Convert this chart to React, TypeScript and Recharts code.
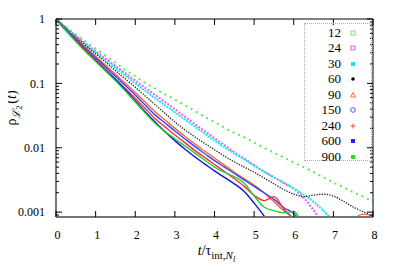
import { LineChart, Line, XAxis, YAxis, Legend } from 'recharts';

const times = [0, 0.25, 0.5, 0.75, 1, 1.25, 1.5, 1.75, 2, 2.25, 2.5, 2.75, 3, 3.25, 3.5, 3.75, 4, 4.25, 4.5, 4.75, 5, 5.25, 5.5, 5.75, 6, 6.25, 6.5, 6.75, 7, 7.25, 7.5, 7.75, 8];

// rho_L2(t) per lattice size
const rho12 = [1, 0.759, 0.575, 0.447, 0.347, 0.269, 0.209, 0.162, 0.129, 0.102, 0.0832, 0.0676, 0.0562, 0.0457, 0.0372, 0.0302, 0.0251, 0.0204, 0.017, 0.0145, 0.012, 0.01, 0.00832, 0.00708, 0.00589, 0.00501, 0.00417, 0.00347, 0.00288, 0.00245, 0.00204, 0.00174, 0.00145];
const rho24 = [1, 0.733, 0.55, 0.417, 0.316, 0.243, 0.186, 0.143, 0.11, 0.0851, 0.0661, 0.0513, 0.0398, 0.0305, 0.0234, 0.0182, 0.0141, 0.011, 0.00851, 0.00676, 0.00537, 0.00427, 0.00347, 0.00282, 0.00229, 0.00166, 0.00107, 0.00063];
const rho30 = [1, 0.724, 0.537, 0.398, 0.302, 0.229, 0.174, 0.132, 0.1, 0.0767, 0.0589, 0.0457, 0.0355, 0.0275, 0.0214, 0.0166, 0.0129, 0.0102, 0.00813, 0.00661, 0.00525, 0.00427, 0.00347, 0.00288, 0.00234, 0.00186, 0.00145, 0.00105, 0.00071];
const rho60 = [1, 0.716, 0.525, 0.389, 0.288, 0.214, 0.158, 0.117, 0.0871, 0.0638, 0.0468, 0.0343, 0.0251, 0.0191, 0.0148, 0.0117, 0.00933, 0.00741, 0.00603, 0.00501, 0.00417, 0.00339, 0.00275, 0.00224, 0.00191, 0.00174, 0.00184, 0.0019, 0.00178, 0.00148, 0.0012, 0.00102, 0.00087];
const rho90 = [1, 0.7, 0.501, 0.363, 0.263, 0.191, 0.138, 0.1, 0.0724, 0.0513, 0.0363, 0.0269, 0.02, 0.0151, 0.0115, 0.00891, 0.00692, 0.00537, 0.00417, 0.00331, 0.00263, 0.002, 0.00145, 0.00105, 0.00079, 0.0005, 0.0004, 0.0004, 0.0004, 0.0005, 0.00076, 0.00093, 0.00087];
const rho150 = [1, 0.692, 0.49, 0.347, 0.251, 0.18, 0.129, 0.0923, 0.0661, 0.0462, 0.0324, 0.0243, 0.0182, 0.0138, 0.0105, 0.00813, 0.00631, 0.00501, 0.00398, 0.00316, 0.00251, 0.002, 0.00158, 0.00117, 0.00095, 0.00056];
const rho240 = [1, 0.676, 0.468, 0.331, 0.234, 0.166, 0.117, 0.0832, 0.0589, 0.0407, 0.0282, 0.0211, 0.0158, 0.012, 0.00912, 0.00708, 0.0055, 0.00427, 0.00331, 0.00251, 0.00182, 0.00151, 0.00174, 0.00112, 0.00076, 0.00045];
const rho600 = [1, 0.661, 0.457, 0.316, 0.224, 0.158, 0.115, 0.0794, 0.0537, 0.0363, 0.0251, 0.0178, 0.0129, 0.00955, 0.00724, 0.00562, 0.00437, 0.00347, 0.00275, 0.00209, 0.00138, 0.00087, 0.0005];
const rho900 = [1, 0.661, 0.447, 0.309, 0.219, 0.155, 0.11, 0.0759, 0.0513, 0.0347, 0.024, 0.0178, 0.0138, 0.0107, 0.00832, 0.00646, 0.00501, 0.00417, 0.00355, 0.00282, 0.00178, 0.0012, 0.00105, 0.00098, 0.00102, 0.0005];

const xTicks = [0, 1, 2, 3, 4, 5, 6, 7, 8];
const yMajor = [0.001, 0.01, 0.1, 1];
const yTicks = [
  0.0009, 0.001, 0.002, 0.003, 0.004, 0.005, 0.006, 0.007, 0.008, 0.009,
  0.01, 0.02, 0.03, 0.04, 0.05, 0.06, 0.07, 0.08, 0.09,
  0.1, 0.2, 0.3, 0.4, 0.5, 0.6, 0.7, 0.8, 0.9, 1,
];

const FONT = '"Liberation Serif", "DejaVu Serif", serif';

type Marker = 'box' | 'square' | 'dot' | 'tri' | 'circle' | 'plus';

const series: { key: string; label: string; values: number[]; color: string; width: number; dash?: string; marker: Marker; mcolor: string }[] = [
  { key: 's12', label: '12', values: rho12, color: '#55ee55', width: 2, dash: '2 4', marker: 'box', mcolor: '#77e877' },
  { key: 's24', label: '24', values: rho24, color: '#ff55ff', width: 2, dash: '2 1.5', marker: 'box', mcolor: '#ee55ee' },
  { key: 's30', label: '30', values: rho30, color: '#11eeee', width: 2, dash: '2 1', marker: 'square', mcolor: '#11e6e6' },
  { key: 's60', label: '60', values: rho60, color: '#222222', width: 1.3, dash: '1.3 1.3', marker: 'dot', mcolor: '#000' },
  { key: 's90', label: '90', values: rho90, color: '#ff6633', width: 1.4, marker: 'tri', mcolor: '#ff6633' },
  { key: 's150', label: '150', values: rho150, color: '#3344ff', width: 1.4, marker: 'circle', mcolor: '#5555ff' },
  { key: 's240', label: '240', values: rho240, color: '#ff3030', width: 1.4, marker: 'plus', mcolor: '#ff4444' },
  { key: 's600', label: '600', values: rho600, color: '#1010e0', width: 1.4, marker: 'square', mcolor: '#2222ee' },
  { key: 's900', label: '900', values: rho900, color: '#22d033', width: 1.4, marker: 'square', mcolor: '#22dd22' },
];

const data = times.map((t, i) => {
  const row: Record<string, number | null> = { t };
  series.forEach((s) => {
    row[s.key] = i < s.values.length ? s.values[i] : null;
  });
  return row;
});

const isMajor = (v: number) => yMajor.some((m) => Math.abs(m - v) < 1e-9);

function LeftTick({ x, y, payload }: any) {
  const major = isMajor(payload.value);
  return (
    <g>
      <line x1={x} x2={x + (major ? 6 : 3)} y1={y} y2={y} stroke="#000" strokeWidth={1} />
      {major && (
        <text x={x - 11} y={y} dy="0.35em" textAnchor="end" fontFamily={FONT} fontSize={12} fill="#000">
          {String(payload.value)}
        </text>
      )}
    </g>
  );
}

function RightTick({ x, y, payload }: any) {
  const major = isMajor(payload.value);
  return <line x1={x} x2={x - (major ? 6 : 3)} y1={y} y2={y} stroke="#000" strokeWidth={1} />;
}

function BottomTick({ x, y, payload }: any) {
  return (
    <g>
      <line x1={x} x2={x} y1={y} y2={y - 6} stroke="#000" strokeWidth={1} />
      <text x={x + 1.5} y={y + 22} textAnchor="middle" fontFamily={FONT} fontSize={12} fill="#000">
        {payload.value}
      </text>
    </g>
  );
}

function TopTick({ x, y }: any) {
  return <line x1={x} x2={x} y1={y} y2={y + 6} stroke="#000" strokeWidth={1} />;
}

function XLabel({ viewBox }: any) {
  const cx = viewBox.x + viewBox.width / 2 + 2;
  return (
    <text x={cx} y={viewBox.y + 38} textAnchor="middle" fontFamily={FONT} fontSize={14} fill="#000">
      <tspan fontStyle="italic">t</tspan>
      <tspan>/τ</tspan>
      <tspan fontSize={11} dy={4}>int,</tspan>
      <tspan fontSize={11} fontStyle="italic">N</tspan>
      <tspan fontSize={8} dy={3} fontStyle="italic">l</tspan>
    </text>
  );
}

function YLabel() {
  return (
    <text transform="translate(16, 108) rotate(-90)" textAnchor="middle" fontFamily={FONT} fontSize={14} fill="#000">
      <tspan>ρ</tspan>
      <tspan fontSize={11} dy={4} fontStyle="italic">ℒ</tspan>
      <tspan fontSize={8} dy={2}>2</tspan>
      <tspan dy={-6} dx={2}>(</tspan>
      <tspan fontStyle="italic">t</tspan>
      <tspan>)</tspan>
    </text>
  );
}

function MarkerIcon({ kind, color }: { kind: Marker; color: string }) {
  return (
    <svg width={8} height={8} viewBox="0 0 8 8" style={{ display: 'block' }}>
      {kind === 'box' && <rect x={2} y={2} width={4} height={4} fill="none" stroke={color} strokeWidth={1} />}
      {kind === 'square' && <rect x={2} y={2} width={4} height={4} fill={color} />}
      {kind === 'dot' && <circle cx={4} cy={4} r={1.8} fill={color} />}
      {kind === 'tri' && <polygon points="4,1.5 6.5,6 1.5,6" fill="none" stroke={color} strokeWidth={1} />}
      {kind === 'circle' && <circle cx={4} cy={4} r={2.3} fill="none" stroke={color} strokeWidth={1} />}
      {kind === 'plus' && <path d="M4 1.5 V6.5 M1.5 4 H6.5" stroke={color} strokeWidth={1} />}
    </svg>
  );
}

function LegendBox() {
  return (
    <div
      style={{
        width: 68,
        height: 138,
        border: '1px dotted #aaa',
        boxSizing: 'border-box',
        paddingTop: 1,
        fontFamily: FONT,
        fontSize: 13,
        color: '#000',
      }}
    >
      {series.map((s) => (
        <div key={s.key} style={{ display: 'flex', alignItems: 'center', height: 15.5 }}>
          <span style={{ width: 36, textAlign: 'right' }}>{s.label}</span>
          <span style={{ marginLeft: 8 }}>
            <MarkerIcon kind={s.marker} color={s.mcolor} />
          </span>
        </div>
      ))}
    </div>
  );
}

export default function App() {
  return (
    <div style={{ position: 'relative', width: 400, height: 280, margin: '-8px', background: '#fff' }}>
      <LineChart width={400} height={280} data={data} margin={{ top: 18, right: 26, bottom: 0, left: 0 }}>
        <XAxis
          dataKey="t"
          type="number"
          domain={[0, 8]}
          ticks={xTicks}
          interval={0}
          height={63}
          tickSize={0}
          tickMargin={0}
          tickLine={false}
          axisLine={{ stroke: '#777', strokeWidth: 2 }}
          tick={<BottomTick />}
          label={{ content: (p: any) => <XLabel {...p} /> }}
        />
        <XAxis
          xAxisId="top"
          orientation="top"
          dataKey="t"
          type="number"
          domain={[0, 8]}
          ticks={xTicks}
          interval={0}
          height={1}
          tickSize={0}
          tickMargin={0}
          tickLine={false}
          axisLine={{ stroke: '#000', strokeWidth: 1 }}
          tick={<TopTick />}
        />
        <YAxis
          scale="log"
          type="number"
          domain={[0.00084, 1]}
          allowDataOverflow
          ticks={yTicks}
          interval={0}
          width={56}
          tickSize={0}
          tickMargin={0}
          tickLine={false}
          axisLine={{ stroke: '#777', strokeWidth: 2 }}
          tick={<LeftTick />}
          label={{ content: () => <YLabel /> }}
        />
        <YAxis
          yAxisId="right"
          orientation="right"
          scale="log"
          type="number"
          domain={[0.00084, 1]}
          allowDataOverflow
          ticks={yTicks}
          interval={0}
          width={1}
          tickSize={0}
          tickMargin={0}
          tickLine={false}
          axisLine={{ stroke: '#000', strokeWidth: 1 }}
          tick={<RightTick />}
        />
        <Legend
          layout="vertical"
          align="center"
          verticalAlign="middle"
          wrapperStyle={{ position: 'absolute', left: 304, top: 23, width: 68, height: 138 }}
          content={() => <LegendBox />}
        />
        {series.map((s) => (
          <Line
            key={s.key}
            dataKey={s.key}
            type="monotone"
            stroke={s.color}
            strokeWidth={s.width}
            strokeDasharray={s.dash}
            dot={false}
            activeDot={false}
            isAnimationActive={false}
          />
        ))}
      </LineChart>
    </div>
  );
}
